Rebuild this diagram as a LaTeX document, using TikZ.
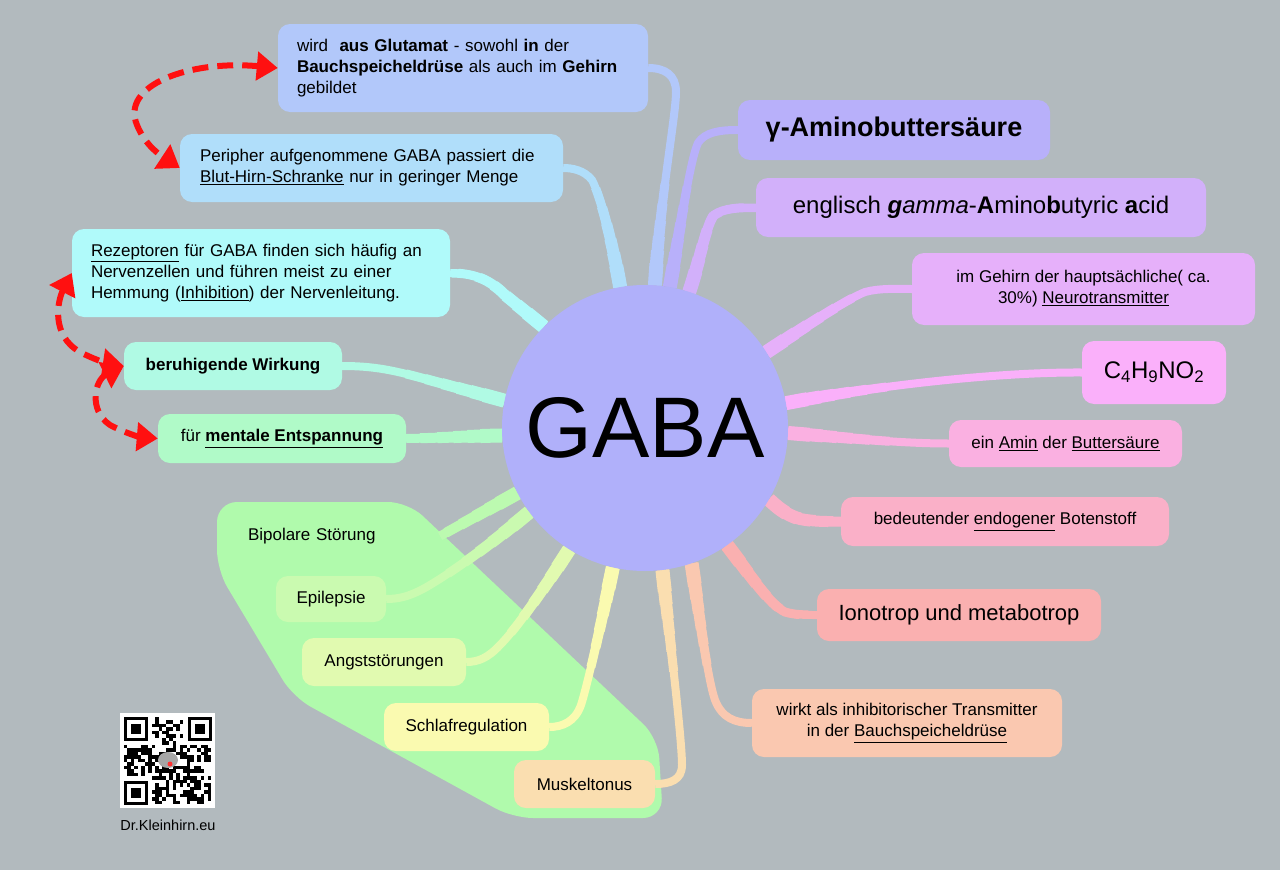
\documentclass[tikz,border=0pt]{standalone}
\usepackage{fontspec}
\setmainfont{Liberation Sans}
\usetikzlibrary{arrows.meta}
\pgfdeclarelayer{back}
\pgfdeclarelayer{mid}
\pgfsetlayers{back,mid,main}
\definecolor{bgc}{RGB}{178,186,190}
\definecolor{circ}{RGB}{176,176,250}
\definecolor{cglu}{RGB}{178,200,250}
\definecolor{cper}{RGB}{176,222,250}
\definecolor{crez}{RGB}{176,250,250}
\definecolor{cber}{RGB}{176,250,228}
\definecolor{cmen}{RGB}{176,250,200}
\definecolor{creg}{RGB}{176,250,172}
\definecolor{cbip}{RGB}{188,250,176}
\definecolor{cepi}{RGB}{202,250,176}
\definecolor{cang}{RGB}{225,250,176}
\definecolor{csch}{RGB}{250,250,176}
\definecolor{cmus}{RGB}{250,222,176}
\definecolor{cwir}{RGB}{250,200,176}
\definecolor{cion}{RGB}{250,176,176}
\definecolor{cbed}{RGB}{250,176,200}
\definecolor{cami}{RGB}{250,176,225}
\definecolor{cc4}{RGB}{250,176,250}
\definecolor{cgeh}{RGB}{230,176,250}
\definecolor{ceng}{RGB}{210,176,250}
\definecolor{cgam}{RGB}{184,176,250}
\definecolor{arred}{RGB}{255,16,16}
\tikzset{
  box/.style={rounded corners=12pt, inner sep=0pt, text=black, font=\fontsize{17}{21}\selectfont, align=center},
  redarr/.style={draw=arred, line width=6pt, dash pattern=on 16pt off 9pt,
    {Triangle[length=21pt,width=28pt,fill=arred]}-{Triangle[length=21pt,width=28pt,fill=arred]}},
}
% tapered branch: drawn in several widths, wider close to the centre
\newcommand\mybranch[2]{%
  \draw[line width=8pt, draw=#1] #2;
  \foreach \w/\r in {9/245,10/225,11/208,12/192,13/178,14/165}{%
    \begin{scope}\clip (gaba.center) circle (\r pt); \draw[line width=\w pt, draw=#1] #2; \end{scope}}}
\begin{document}
\begin{tikzpicture}[x=1pt,y=-1pt]
\useasboundingbox (0,0) rectangle (1280,870);
\begin{pgfonlayer}{back}
\fill[bgc] (0,0) rectangle (1280,870);
\fill[creg, rounded corners=20pt] (217,502) -- (408,502) -- (658,738) -- (663,818) -- (513,818) -- (293,697) -- (217,570) -- cycle;
\end{pgfonlayer}

% centre
\node[circle, fill=circ, minimum size=286pt, inner sep=0pt, font=\fontsize{86}{86}\selectfont] (gaba) at (645,428) {GABA};

% left nodes
\node[box, fill=cglu, minimum width=370pt, minimum height=88pt, text width=332pt, align=left] (glu) at (463,68)
 {wird \ \textbf{aus Glutamat} - sowohl \textbf{in} der\\\textbf{Bauchspeicheldrüse} als auch im \textbf{Gehirn}\\gebildet};
\node[box, fill=cper, minimum width=383pt, minimum height=68pt, text width=343pt, align=left] (per) at (371.5,168)
 {Peripher aufgenommene GABA passiert die\\\underline{Blut-Hirn-Schranke} nur in geringer Menge};
\node[box, fill=crez, minimum width=378pt, minimum height=88pt, text width=340pt, align=left] (rez) at (261,273)
 {\underline{Rezeptoren} für GABA finden sich häufig an\\Nervenzellen und führen meist zu einer\\Hemmung (\underline{Inhibition}) der Nervenleitung.};
\node[box, fill=cber, minimum width=218pt, minimum height=48pt] (ber) at (233,366) {\textbf{beruhigende Wirkung}};
\node[box, fill=cmen, minimum width=248pt, minimum height=49pt] (men) at (282,438.5) {für \textbf{\underline{mentale Entspannung}}};

% group
\node[box, minimum width=210pt, minimum height=44pt, text width=174pt, align=left] (bip) at (335,536) {Bipolare Störung};
\node[box, fill=cepi, minimum width=110pt, minimum height=46pt] (epi) at (331,599) {Epilepsie};
\node[box, fill=cang, minimum width=164pt, minimum height=48pt] (ang) at (384,662) {Angststörungen};
\node[box, fill=csch, minimum width=165pt, minimum height=48pt] (sch) at (466.5,727) {Schlafregulation};
\node[box, fill=cmus, minimum width=141pt, minimum height=48pt] (mus) at (584.5,784) {Muskeltonus};

% right nodes
\node[box, fill=cgam, minimum width=312pt, minimum height=60pt, font=\fontsize{27}{30}\selectfont\bfseries] (gam) at (894,130) {γ-Aminobuttersäure};
\node[box, fill=ceng, minimum width=450pt, minimum height=59pt, font=\fontsize{24}{28}\selectfont] (eng) at (981,207.5)
 {englisch \textbf{\textit{g}}\textit{amma}-\textbf{A}mino\textbf{b}utyric \textbf{a}cid};
\node[box, fill=cgeh, minimum width=343pt, minimum height=72pt] (geh) at (1083.5,289)
 {im Gehirn der hauptsächliche( ca.\\30\%) \underline{Neurotransmitter}};
\node[box, fill=cc4, minimum width=144pt, minimum height=63pt, font=\fontsize{24}{28}\selectfont] (c4) at (1154,372.5)
 {C\textsubscript{4}H\textsubscript{9}NO\textsubscript{2}};
\node[box, fill=cami, minimum width=233pt, minimum height=47pt] (ami) at (1065.5,443.5) {ein \underline{Amin} der \underline{Buttersäure}};
\node[box, fill=cbed, minimum width=328pt, minimum height=49pt] (bed) at (1005,521.5) {bedeutender \underline{endogener} Botenstoff};
\node[box, fill=cion, minimum width=284pt, minimum height=52pt, font=\fontsize{22}{26}\selectfont] (ion) at (959,615) {Ionotrop und metabotrop};
\node[box, fill=cwir, minimum width=310pt, minimum height=68pt] (wir) at (907,723)
 {wirkt als inhibitorischer Transmitter\\in der \underline{Bauchspeicheldrüse}};

% branches
\begin{pgfonlayer}{mid}
\mybranch{cglu}{(gaba.86) .. controls (660,200) and (676,115) .. (676,92) .. controls (676,75) and (665,68) .. (glu.east)}
\mybranch{cper}{(gaba.100) .. controls (612,240) and (600,195) .. (592,180) .. controls (584,170) and (572,168) .. (per.east)}
\mybranch{crez}{(rez.east) .. controls (475,273) and (490,280) .. (505,295) -- (gaba.135)}
\mybranch{cber}{(ber.east) .. controls (380,366) and (400,372) .. (440,383) -- (gaba.169)}
\mybranch{cmen}{(men.east) .. controls (440,438) and (470,436) .. (gaba.183)}
\mybranch{cbip}{(gaba.207) -- (bip.east)}
\mybranch{cepi}{(gaba.216) .. controls (490,545) and (455,570) .. (430,585) .. controls (410,597) and (398,599) .. (epi.east)}
\mybranch{cang}{(gaba.238) .. controls (540,595) and (515,630) .. (500,645) .. controls (488,658) and (478,662) .. (ang.east)}
\mybranch{csch}{(gaba.257) .. controls (600,630) and (586,690) .. (581,705) .. controls (575,722) and (562,727) .. (sch.east)}
\mybranch{cmus}{(gaba.277) .. controls (670,640) and (682,740) .. (682,765) .. controls (682,780) and (670,784) .. (mus.east)}
\mybranch{cwir}{(gaba.289) .. controls (700,620) and (708,680) .. (715,700) .. controls (722,718) and (735,723) .. (wir.west)}
\mybranch{cion}{(gaba.305) .. controls (750,575) and (770,605) .. (785,612) .. controls (795,615) and (805,615) .. (ion.west)}
\mybranch{cbed}{(gaba.330) .. controls (775,505) and (785,515) .. (800,519) .. controls (815,522) and (830,521.5) .. (bed.west)}
\mybranch{cami}{(gaba.358) .. controls (850,438) and (900,443.5) .. (ami.west)}
\mybranch{cc4}{(gaba.10) .. controls (880,385) and (1000,372) .. (c4.west)}
\mybranch{cgeh}{(gaba.32) .. controls (800,330) and (845,300) .. (865,292) .. controls (880,288) and (895,289) .. (geh.west)}
\mybranch{ceng}{(gaba.72) .. controls (700,260) and (706,225) .. (714,215) .. controls (724,208) and (740,207.5) .. (eng.west)}
\mybranch{cgam}{(gaba.80) .. controls (680,230) and (690,160) .. (698,143) .. controls (705,132) and (720,130) .. (gam.west)}
\end{pgfonlayer}

% red arrows
\draw[redarr] (glu.west) .. controls (190,60) and (120,85) .. (137,125) .. controls (145,145) and (160,155) .. (per.west);
\draw[redarr] (rez.west) .. controls (58,300) and (50,335) .. (80,352) .. controls (95,360) and (110,364) .. (ber.west);
\draw[redarr] (ber.west) .. controls (95,380) and (88,410) .. (110,425) .. controls (125,433) and (140,437) .. (men.west);

% QR code
\fill[white] (120,713) rectangle (215,808);
\pgfmathsetseed{11}
\foreach \i in {0,...,24}{
  \foreach \j in {0,...,24}{
    \pgfmathtruncatemacro{\infd}{ifthenelse((\i<8 && \j<8) || (\i>16 && \j<8) || (\i<8 && \j>16),1,0)}
    \pgfmathtruncatemacro{\on}{ifthenelse(rnd<0.5,1,0)}
    \ifnum\infd=0 \ifnum\on=1
      \fill[black] ({123.5+\i*3.5},{716.5+\j*3.5}) rectangle ++(3.6,3.6);
    \fi\fi
  }
}
\foreach \qx/\qy in {123.5/716.5, 187.5/716.5, 123.5/780.5}{
  \fill[black] (\qx,\qy) rectangle ++(24.5,24.5);
  \fill[white] ({\qx+3.5},{\qy+3.5}) rectangle ++(17.5,17.5);
  \fill[black] ({\qx+7},{\qy+7}) rectangle ++(10.5,10.5);
}
\fill[gray!70] (168,760) ellipse (10pt and 8pt);
\fill[red!80] (170,764) circle (2.5pt);
\node[font=\fontsize{14.5}{16}\selectfont, inner sep=0pt] (url) at (168,825) {Dr.Kleinhirn.eu};
\end{tikzpicture}
\end{document}
